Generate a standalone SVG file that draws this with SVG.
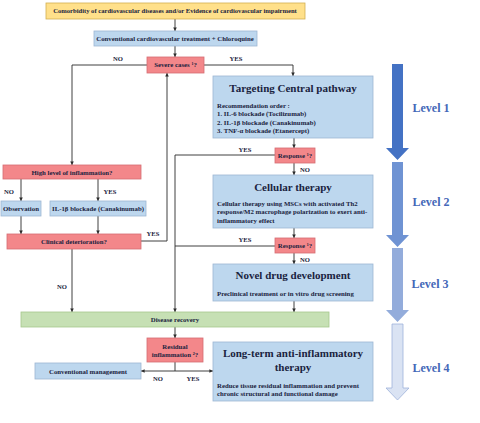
<svg xmlns="http://www.w3.org/2000/svg" width="480" height="423" viewBox="0 0 480 423">
<defs>
<marker id="ah" viewBox="0 0 6 6" refX="6" refY="3" markerWidth="4" markerHeight="4" orient="auto">
<path d="M0,0 L6,3 L0,6 z" fill="#2b2b2b"/>
</marker>
<style>
text{font-family:"Liberation Serif","Times New Roman",serif;font-weight:bold;fill:#1a2340}
.s{font-size:6.6px}
.m{font-size:6.8px}
.t{font-size:11px}
.c{text-anchor:middle}
.lab{font-size:6.6px;text-anchor:middle}
.lv{font-size:12px;fill:#4468b8;text-anchor:middle}
.y{fill:#ffe08a;stroke:#d2b050;stroke-width:0.8}
.b{fill:#bdd7ee;stroke:#9db6d3;stroke-width:0.8}
.r{fill:#f3878a;stroke:#d56c72;stroke-width:0.8}
.g{fill:#c6e0b4;stroke:#a6c78d;stroke-width:0.8}
.ln{fill:none;stroke:#2b2b2b;stroke-width:0.9}
.ar{marker-end:url(#ah)}
</style>
</defs>
<rect width="480" height="423" fill="#ffffff"/>

<g id="connectors">
<path class="ln ar" d="M175,19 V31"/>
<path class="ln ar" d="M175,46 V57"/>
<path class="ln ar" d="M147,65 H72 V165"/>
<path class="ln ar" d="M204,65 H293 V76"/>
<path class="ln ar" d="M294,138 V148"/>
<path class="ln ar" d="M275,155 H175 V312"/>
<path class="ln ar" d="M294,163 V175"/>
<path class="ln ar" d="M294,228 V238"/>
<path class="ln" d="M275,246 H175"/>
<path class="ln ar" d="M294,253 V264"/>
<path class="ln ar" d="M294,301 V312"/>
<path class="ln ar" d="M21,179 V201"/>
<path class="ln ar" d="M98,179 V201"/>
<path class="ln ar" d="M21,216 V234"/>
<path class="ln ar" d="M98,216 V234"/>
<path class="ln ar" d="M141,241 H167 V73"/>
<path class="ln ar" d="M72,249 V312"/>
<path class="ln ar" d="M175,327 V338"/>
<path class="ln" d="M175,362 V371"/>
<path class="ln ar" d="M175,371 H141"/>
<path class="ln ar" d="M175,371 H213"/>
<text class="lab" x="118" y="61">NO</text>
<text class="lab" x="236" y="61">YES</text>
<text class="lab" x="245" y="152">YES</text>
<text class="lab" x="305" y="172">NO</text>
<text class="lab" x="245" y="242">YES</text>
<text class="lab" x="305" y="262">NO</text>
<text class="lab" x="9" y="194">NO</text>
<text class="lab" x="110" y="194">YES</text>
<text class="lab" x="153" y="236">YES</text>
<text class="lab" x="62" y="289">NO</text>
<text class="lab" x="158" y="381">NO</text>
<text class="lab" x="193" y="381">YES</text>
</g>

<g id="start">
<rect class="y" x="46" y="3" width="259" height="16"/>
<text class="s c" x="175" y="13.4">Comorbidity of cardiovascular diseases and/or Evidence of cardiovascular impairment</text>
</g>
<g id="conventional">
<rect class="b" x="94" y="31" width="163" height="15"/>
<text class="m c" x="175" y="41">Conventional cardiovascular treatment + Chloroquine</text>
</g>
<g id="severe">
<rect class="r" x="147" y="57" width="57" height="16"/>
<text class="m c" x="175.5" y="67.3">Severe cases ¹?</text>
</g>
<g id="targeting">
<rect class="b" x="213" y="76" width="160" height="62"/>
<text class="t c" x="293" y="92">Targeting Central pathway</text>
<text class="m" x="217" y="108">Recommendation order :</text>
<text class="m" x="217" y="115.8">1. IL-6 blockade (Tocilizumab)</text>
<text class="m" x="217" y="124.6">2. IL-1β blockade (Canakinumab)</text>
<text class="m" x="217" y="133">3. TNF-α blockade (Etanercept)</text>
</g>
<g id="response1">
<rect class="r" x="275" y="148" width="40" height="15"/>
<text class="m c" x="295" y="158">Response ¹?</text>
</g>
<g id="cellular">
<rect class="b" x="213" y="175" width="160" height="53"/>
<text class="t c" x="293" y="191">Cellular therapy</text>
<text class="m" x="217" y="205.5">Cellular therapy using MSCs with activated Th2</text>
<text class="m" x="217" y="214">response/M2 macrophage polarization to exert anti-</text>
<text class="m" x="217" y="222.5">inflammatory effect</text>
</g>
<g id="response2">
<rect class="r" x="275" y="238" width="40" height="15"/>
<text class="m c" x="295" y="248">Response ¹?</text>
</g>
<g id="novel">
<rect class="b" x="213" y="264" width="160" height="37"/>
<text class="t c" x="293" y="278.5">Novel drug development</text>
<text class="m" x="217" y="295.5">Preclinical treatment or in vitro drug screening</text>
</g>
<g id="high">
<rect class="r" x="3" y="165" width="138" height="14"/>
<text class="m c" x="72" y="174.5">High level of inflammation?</text>
</g>
<g id="observation">
<rect class="b" x="1" y="201" width="40" height="15"/>
<text class="m c" x="21" y="211">Observation</text>
</g>
<g id="il1b">
<rect class="b" x="50" y="201" width="96" height="15"/>
<text class="m c" x="98" y="211">IL-1β blockade (Canakinumab)</text>
</g>
<g id="clinical">
<rect class="r" x="7" y="234" width="134" height="15"/>
<text class="m c" x="74" y="244">Clinical deterioration?</text>
</g>
<g id="recovery">
<rect class="g" x="21" y="312" width="308" height="15"/>
<text class="m c" x="175" y="322">Disease recovery</text>
</g>
<g id="residual">
<rect class="r" x="147" y="338" width="56" height="24"/>
<text class="m c" x="175" y="348.5">Residual</text>
<text class="m c" x="175" y="356.5">inflammation ²?</text>
</g>
<g id="convmgmt">
<rect class="b" x="35" y="363" width="106" height="16"/>
<text class="m c" x="88" y="373.5">Conventional management</text>
</g>
<g id="longterm">
<rect class="b" x="213" y="342" width="160" height="59"/>
<text class="t c" x="293" y="357">Long-term anti-inflammatory</text>
<text class="t c" x="293" y="370.5">therapy</text>
<text class="m" x="217" y="387.5">Reduce tissue residual inflammation and prevent</text>
<text class="m" x="217" y="395.5">chronic structural and functional damage</text>
</g>

<g id="levels">
<polygon points="392,64 403,64 403,148 409,148 397.5,160 386,148 392,148" fill="#4472c4"/>
<polygon points="392,162 403,162 403,235 409,235 397.5,247 386,235 392,235" fill="#6f93d3"/>
<polygon points="392,248 403,248 403,310 409,310 397.5,322 386,310 392,310" fill="#93acdb"/>
<polygon points="392,324 403,324 403,388 409,388 397.5,400 386,388 392,388" fill="#dae3f3" stroke="#9fb3da" stroke-width="0.8"/>
<text class="lv" x="431" y="112">Level 1</text>
<text class="lv" x="431" y="206">Level 2</text>
<text class="lv" x="430" y="288">Level 3</text>
<text class="lv" x="431" y="372">Level 4</text>
</g>
</svg>
